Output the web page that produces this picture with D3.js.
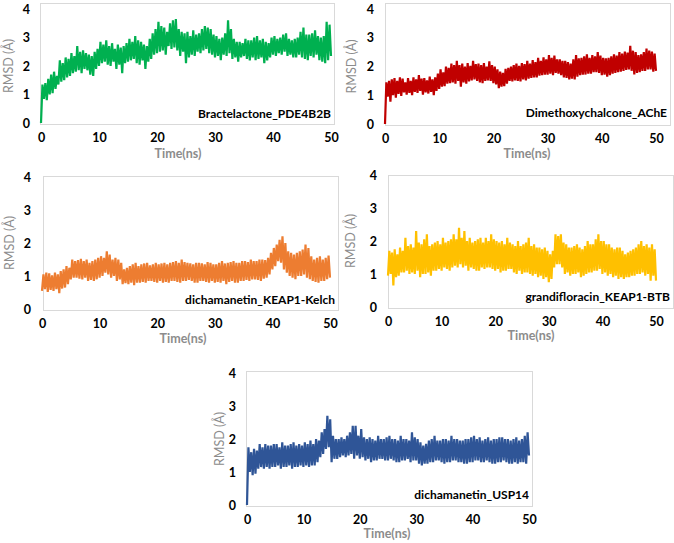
<!DOCTYPE html>
<html><head><meta charset="utf-8">
<script src="https://cdn.jsdelivr.net/npm/d3@7"></script>
<style>
body{margin:0;background:#fff;}
svg{display:block;}
.tick text{font-family:Lato,"Open Sans",sans-serif;font-weight:700;font-size:12.5px;fill:#000;}
</style></head>
<body>
<svg id="c" width="674" height="543"></svg>
<script>
// ---------------- DATA ----------------
const timeStep = 0.25; // ns between samples
const xTicks = [0, 10, 20, 30, 40, 50];
const yTicks = [0, 1, 2, 3, 4];
const seriesNames = ["Bractelactone_PDE4B2B", "Dimethoxychalcone_AChE", "dichamanetin_KEAP1-Kelch", "grandifloracin_KEAP1-BTB", "dichamanetin_USP14"];

const bractelactone = [
0.00,1.35,0.85,1.40, 0.80,1.55,1.00,1.70, 1.05,1.80,1.20,1.65, 1.35,2.20,1.45,2.10, 1.50,2.30,1.60,2.25,
1.65,2.45,1.75,2.35, 1.80,2.70,1.85,2.50, 1.75,2.55,1.90,2.45, 1.85,2.40,1.70,2.35, 1.65,2.50,1.90,2.60,
2.00,2.85,2.10,2.75, 2.15,2.90,2.05,2.70, 2.00,2.80,2.15,2.60, 1.90,2.75,2.05,2.65, 1.75,2.70,2.10,2.80,
2.15,2.95,2.20,2.85, 2.25,3.05,2.10,2.90, 2.05,2.85,2.20,2.75, 1.90,2.70,2.15,2.95, 2.25,3.15,2.40,3.30,
2.45,3.55,2.50,3.40, 2.55,3.35,2.40,3.20, 2.70,3.50,2.60,3.60, 2.65,3.65,2.55,3.30, 2.35,3.20,2.50,3.15,
2.10,3.20,2.30,3.05, 2.40,3.25,2.35,3.10, 2.50,3.15,2.45,3.30, 2.55,3.40,2.60,3.35, 2.45,3.30,2.40,3.10,
2.30,3.05,2.35,2.95, 2.20,3.00,2.40,3.15, 2.35,3.60,2.45,3.30, 2.25,2.95,2.30,2.85, 2.15,2.85,2.30,2.80,
2.35,2.95,2.25,2.90, 2.20,2.90,2.30,3.00, 2.20,3.05,2.25,2.90, 2.30,2.95,2.10,2.85, 2.20,2.80,2.30,3.00,
2.40,3.05,2.35,2.95, 2.45,3.00,2.40,3.10, 2.50,3.15,2.35,2.95, 2.40,2.90,2.30,2.95, 2.30,3.00,2.40,3.20,
2.30,3.35,2.25,3.10, 2.20,3.10,2.35,3.15, 2.30,3.25,2.40,3.05, 2.20,3.00,2.15,3.05, 2.10,3.55,2.20,3.45,
2.35];

const dimethoxychalcone = [
0.00,1.45,0.95,1.50, 0.78,1.55,1.00,1.60, 0.92,1.50,1.05,1.62, 0.98,1.58,1.10,1.45, 1.02,1.60,1.08,1.50,
1.00,1.62,1.12,1.55, 1.08,1.70,1.15,1.58, 1.02,1.60,1.10,1.52, 1.06,1.65,1.12,1.55, 1.00,1.62,1.15,1.75,
1.22,1.90,1.30,1.80, 1.32,2.00,1.40,1.95, 1.42,2.10,1.45,2.05, 1.40,2.20,1.50,2.05, 1.30,2.10,1.45,2.00,
1.40,2.12,1.48,2.02, 1.52,2.20,1.55,2.08, 1.50,2.10,1.45,2.05, 1.42,2.12,1.50,2.00, 1.52,2.18,1.50,2.05,
1.42,2.00,1.38,1.90, 1.25,1.82,1.30,1.78, 1.32,1.92,1.40,1.95, 1.50,2.00,1.48,2.05, 1.52,2.10,1.50,2.02,
1.48,2.12,1.55,2.08, 1.52,2.20,1.58,2.10, 1.60,2.22,1.62,2.15, 1.62,2.30,1.68,2.20, 1.70,2.32,1.72,2.25,
1.72,2.40,1.75,2.30, 1.70,2.38,1.78,2.25, 1.75,2.25,1.70,2.20, 1.62,2.20,1.60,2.15, 1.55,2.10,1.58,2.25,
1.55,2.40,1.65,2.28, 1.70,2.30,1.72,2.35, 1.72,2.42,1.75,2.30, 1.75,2.40,1.80,2.35, 1.80,2.50,1.78,2.38,
1.70,2.30,1.72,2.28, 1.65,2.30,1.70,2.35, 1.75,2.42,1.78,2.38, 1.80,2.50,1.82,2.45, 1.85,2.52,1.88,2.48,
1.90,2.72,1.85,2.55, 1.72,2.50,1.78,2.40, 1.80,2.42,1.85,2.50, 1.85,2.62,1.90,2.55, 1.90,2.52,1.82,2.45,
1.85];

const dichamanetinKelch = [
0.55,1.05,0.60,1.10, 0.52,1.08,0.58,1.02, 0.55,1.10,0.60,1.05, 0.48,1.15,0.62,1.20, 0.65,1.30,0.75,1.25,
0.90,1.50,0.95,1.45, 0.95,1.48,0.92,1.52, 0.90,1.45,0.95,1.50, 0.85,1.40,0.88,1.45, 0.85,1.50,0.90,1.55,
0.95,1.60,1.00,1.55, 1.10,1.75,1.05,1.65, 0.95,1.50,1.00,1.55, 0.85,1.50,0.90,1.40, 0.75,1.20,0.78,1.25,
0.75,1.30,0.80,1.35, 0.72,1.40,0.80,1.30, 0.80,1.35,0.82,1.38, 0.80,1.40,0.85,1.32, 0.85,1.35,0.82,1.40,
0.80,1.35,0.85,1.38, 0.80,1.40,0.82,1.35, 0.80,1.40,0.85,1.42, 0.85,1.45,0.82,1.40, 0.80,1.50,0.85,1.42,
0.85,1.40,0.88,1.38, 0.85,1.35,0.80,1.40, 0.80,1.40,0.85,1.38, 0.85,1.35,0.82,1.42, 0.80,1.40,0.85,1.35,
0.80,1.35,0.82,1.40, 0.80,1.45,0.85,1.38, 0.75,1.40,0.82,1.42, 0.85,1.45,0.80,1.40, 0.80,1.40,0.85,1.45,
0.85,1.45,0.88,1.42, 0.85,1.50,0.90,1.45, 0.90,1.45,0.88,1.50, 0.85,1.50,0.92,1.48, 0.95,1.55,1.05,1.70,
1.20,1.85,1.30,1.95, 1.45,2.10,1.40,2.20, 1.20,2.00,1.10,1.75, 1.00,1.70,0.95,1.65, 0.90,1.70,1.00,1.75,
1.00,1.80,1.05,1.95, 0.95,1.85,0.90,1.60, 0.85,1.50,0.82,1.55, 0.80,1.60,0.85,1.50, 0.85,1.55,0.90,1.62,
0.95];

const grandifloracin = [
0.95,1.70,1.00,1.65, 0.65,1.75,0.90,1.60, 0.95,1.80,1.05,1.70, 1.05,2.10,1.10,1.85, 1.00,1.90,1.05,1.80,
1.00,2.30,1.10,1.95, 0.90,1.90,1.00,2.05, 1.00,2.20,1.05,1.85, 0.95,1.90,1.10,1.95, 1.10,2.00,1.15,1.90,
1.10,2.10,1.20,1.95, 1.15,2.00,1.10,2.05, 1.20,2.20,1.25,2.05, 1.20,2.40,1.30,2.10, 1.20,2.30,1.25,2.00,
1.10,2.10,1.20,1.95, 1.15,2.00,1.10,2.05, 1.10,2.10,1.20,1.95, 1.15,2.10,1.20,2.00, 1.20,2.20,1.15,2.05,
1.10,2.00,1.15,1.95, 1.05,2.00,1.10,1.90, 1.10,2.10,1.15,1.95, 1.15,1.90,1.05,1.85, 1.00,2.00,1.10,1.85,
1.00,1.90,1.05,1.95, 1.05,2.10,1.00,1.85, 0.95,1.90,1.00,1.80, 0.90,1.80,0.95,1.75, 0.85,1.80,0.90,1.70,
0.75,1.60,0.85,1.70, 1.20,2.20,1.30,2.15, 1.30,2.20,1.20,1.95, 1.00,1.90,1.05,1.80, 0.95,1.80,1.00,1.85,
1.00,1.90,1.05,1.80, 0.90,1.75,0.95,1.85, 1.00,2.00,1.05,1.90, 1.05,1.90,1.10,2.05, 1.10,2.20,1.15,2.00,
1.00,2.00,1.05,1.90, 0.95,1.90,1.00,1.80, 0.90,1.75,0.95,1.80, 0.85,1.80,0.90,1.70, 0.85,1.60,0.90,1.65,
0.90,1.70,0.95,1.75, 0.95,1.80,1.00,1.90, 1.00,2.00,1.05,1.85, 0.95,1.90,1.00,1.80, 0.80,1.90,0.95,1.75,
0.80];

const dichamanetinUSP14 = [
0.00,1.75,1.00,1.60, 0.90,1.70,0.95,1.65, 1.10,1.85,1.15,1.75, 1.10,1.85,1.15,1.80, 1.10,1.80,1.15,1.85,
1.15,1.85,1.20,1.75, 1.10,1.90,1.15,1.80, 1.15,1.80,1.20,1.85, 1.10,1.90,1.15,1.80, 1.15,1.85,1.20,1.80,
1.15,1.90,1.20,1.85, 1.15,1.95,1.20,1.85, 1.20,2.00,1.30,1.95, 1.45,2.20,1.55,2.30, 1.70,2.70,1.75,2.60,
1.30,2.10,1.40,2.00, 1.40,2.00,1.45,2.05, 1.50,2.00,1.45,2.10, 1.50,2.20,1.55,2.40, 1.40,2.40,1.50,2.10,
1.40,2.30,1.45,2.05, 1.35,2.00,1.40,2.05, 1.30,2.00,1.35,1.95, 1.35,2.10,1.40,2.00, 1.40,2.00,1.35,2.05,
1.35,2.10,1.40,2.00, 1.35,2.00,1.30,1.95, 1.30,2.10,1.35,2.00, 1.35,2.00,1.40,1.95, 1.30,2.20,1.35,2.05,
1.35,2.00,1.25,1.90, 1.20,1.80,1.25,1.85, 1.25,1.95,1.30,2.00, 1.30,2.10,1.35,1.95, 1.35,1.95,1.30,2.00,
1.25,2.00,1.30,1.95, 1.30,2.10,1.35,2.00, 1.35,2.00,1.30,1.95, 1.30,1.95,1.25,2.00, 1.25,2.00,1.30,2.05,
1.30,2.10,1.35,2.00, 1.35,2.05,1.30,1.95, 1.30,2.00,1.35,2.05, 1.30,1.95,1.25,2.00, 1.25,2.00,1.30,2.05,
1.30,2.05,1.35,2.00, 1.30,2.00,1.25,1.95, 1.25,2.00,1.30,2.05, 1.25,1.95,1.30,2.00, 1.30,2.10,1.25,2.20,
1.50];

const seriesValues = [bractelactone, dimethoxychalcone, dichamanetinKelch, grandifloracin, dichamanetinUSP14];
const seriesColors = ["#00b050", "#c00000", "#ed7d31", "#ffc000", "#2f5597"];

// ---------------- LAYOUT ----------------
const panels = [
  {x0:41,  x1:331, y0:123, y1:9,   box:[40,3,334,124],   yl:10,  tx:178, ty:155, ly:115},
  {x0:385, x1:656, y0:124, y1:9,   box:[385,3,670,125],  yl:353, tx:527, ty:155, ly:114},
  {x0:42,  x1:330, y0:309, y1:177, box:[43,176,338,310], yl:11,  tx:183, ty:340, ly:301},
  {x0:388, x1:656, y0:307, y1:175, box:[388,175,673,308],yl:352, tx:531, ty:337, ly:298},
  {x0:247, x1:529, y0:505, y1:373, box:[246,371,532,506],yl:221, tx:387, ty:535, ly:496}
];

const svg = d3.select("#c");

panels.forEach((p, k) => {
  const g = svg.append("g");
  const x = d3.scaleLinear().domain([0, 50]).range([p.x0, p.x1]);
  const y = d3.scaleLinear().domain([0, 4]).range([p.y0, p.y1]);
  const [bx0, by0, bx1, by1] = p.box;

  g.append("rect").attr("x", bx0 + 0.5).attr("y", by0 + 0.5)
    .attr("width", bx1 - bx0).attr("height", by1 - by0)
    .attr("fill", "#fff").attr("stroke", "#d9d9d9").attr("stroke-width", 1);

  const vals = seriesValues[k];
  const line = d3.line().x((d, i) => x(i * timeStep)).y(d => y(d));
  g.append("path").datum(vals).attr("d", line)
    .attr("fill", "none").attr("stroke", seriesColors[k])
    .attr("stroke-width", 2.2).attr("stroke-linejoin", "miter").attr("stroke-miterlimit", 2);

  const xa = g.append("g").attr("transform", `translate(0,${p.y0})`)
    .call(d3.axisBottom(x).tickValues(xTicks).tickFormat(d3.format("d")).tickSize(0).tickPadding(10));
  xa.select(".domain").remove();

  const ya = g.append("g").attr("transform", `translate(${p.x0},0)`)
    .call(d3.axisLeft(y).tickValues(yTicks).tickFormat(d3.format("d")).tickSize(0).tickPadding(11));
  ya.select(".domain").remove();

  g.append("text").attr("x", p.tx).attr("y", p.ty).attr("text-anchor", "middle")
    .attr("dominant-baseline", "middle")
    .style("font-family", "Lato, 'Open Sans', sans-serif").style("font-weight", 700)
    .style("font-size", "12.5px").style("fill", "#8c8c8c").text("Time(ns)");

  g.append("text").attr("transform", `translate(${p.yl},${(p.y0 + p.y1) / 2}) rotate(-90)`)
    .attr("text-anchor", "middle").attr("dominant-baseline", "middle")
    .style("font-family", "Lato, 'Open Sans', sans-serif").style("font-weight", 400)
    .style("font-size", "12.5px").style("fill", "#8c8c8c").text("RMSD (Å)");

  g.append("text").attr("x", bx1 - 3).attr("y", p.ly).attr("text-anchor", "end")
    .attr("dominant-baseline", "middle")
    .style("font-family", "Lato, 'Open Sans', sans-serif").style("font-weight", 700)
    .style("font-size", "12px").style("fill", "#000").text(seriesNames[k]);
});
</script>
</body></html>
